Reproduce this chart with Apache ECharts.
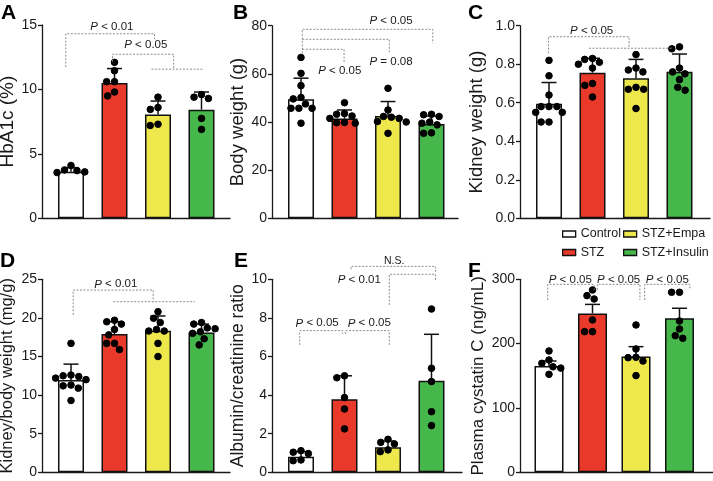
<!DOCTYPE html>
<html><head><meta charset="utf-8">
<script src="https://cdn.jsdelivr.net/npm/echarts@6/dist/echarts.min.js"></script>
<style>html,body{margin:0;padding:0;background:#fff}#c{width:713px;height:481px}</style>
</head><body><div id="c"></div>
<script>
// ---------------- DATA ----------------
const groups = ['Control', 'STZ', 'STZ+Empa', 'STZ+Insulin'];

// A: HbA1c (%)
const hba1cTicks = [0, 5, 10, 15];
const hba1cMean = [3.62, 10.5, 8.05, 8.43];
const hba1cSD = [0.31, 1.12, 1.05, 1.37];
const hba1cDots = [
  [4.1, 3.55, 3.75, 3.6, 3.7],
  [12.1, 11.45, 10.6, 10.6, 9.5, 9.8],
  [9.4, 8.45, 8.6, 7.2, 7.3],
  [9.4, 9.6, 9.3, 7.75, 6.9]
];
const hba1cBrackets = [
  { path: [[-0.12, 11.73], [-0.12, 14.32], [1.92, 14.32], [1.92, 13.9]], label: 'P < 0.01', at: [0.94, 14.87] },
  { path: [[0.955, 12.15], [0.955, 12.73], [2.36, 12.73], [2.36, 11.57]], label: 'P < 0.05', at: [1.72, 13.45] },
  { path: [[1.85, 11.57], [3.02, 11.57]] }
];

// B: Body weight (g)
const bodyTicks = [0, 20, 40, 60, 80];
const bodyMean = [49.4, 41.5, 42.5, 39.2];
const bodySD = [8.8, 3.5, 6.0, 3.3];
const bodyDots = [
  [66.8, 60.2, 55.1, 50.2, 49.6, 45.7, 45.7, 45.7, 39.5, 47.5],
  [48, 43.5, 42.5, 43.2, 41.5, 39.8, 39.5, 39.7],
  [54, 45, 42.3, 42, 41.5, 40.2, 40, 35.3],
  [43, 42.3, 43.2, 39.5, 38.8, 40, 35.3, 35.5]
];
const bodyBrackets = [
  { path: [[0.03, 68.5], [0.03, 78.5], [3.03, 78.5], [3.03, 72.7]], label: 'P < 0.05', at: [2.07, 82] },
  { path: [[0.03, 74.35], [2.03, 74.35], [2.03, 68.5]], label: 'P = 0.08', at: [2.07, 65] },
  { path: [[0.03, 70.2], [0.99, 70.2], [0.99, 64.4]], label: 'P < 0.05', at: [0.89, 61.2] }
];

// C: Kidney weight (g)
const kidneyTicks = [0, 0.2, 0.4, 0.6, 0.8, 1.0];
const kidneyMean = [0.595, 0.756, 0.727, 0.761];
const kidneySD = [0.11, 0.075, 0.098, 0.092];
const kidneyDots = [
  [0.82, 0.74, 0.64, 0.58, 0.58, 0.58, 0.55, 0.55, 0.5, 0.5],
  [0.825, 0.83, 0.8, 0.81, 0.78, 0.7, 0.69, 0.63],
  [0.85, 0.78, 0.77, 0.76, 0.68, 0.67, 0.67, 0.57],
  [0.89, 0.88, 0.78, 0.76, 0.75, 0.72, 0.68, 0.665]
];
const kidneyBrackets = [
  { path: [[-0.01, 0.857], [-0.01, 0.943], [1.84, 0.943], [1.84, 0.883]], label: 'P < 0.05', at: [0.98, 0.972] },
  { path: [[0.92, 0.883], [2.85, 0.883]] }
];

// D: Kidney/body weight (mg/g)
const ratioTicks = [0, 5, 10, 15, 20, 25];
const ratioMean = [11.96, 17.9, 18.35, 18.1];
const ratioSD = [2.05, 1.6, 1.9, 1.1];
const ratioDots = [
  [16.7, 12.5, 12.4, 12.6, 12.2, 12.0, 11.2, 10.9, 11.3, 9.3],
  [19.2, 19.5, 19.7, 18.5, 17.8, 16.7, 16.7, 15.9],
  [20.8, 19.95, 19.4, 18.5, 18.3, 18.3, 16.7, 15.0],
  [19.2, 19.4, 18.7, 18.6, 18.2, 18.0, 17.3, 16.5]
];
const ratioBrackets = [
  { path: [[0.05, 20.4], [0.05, 23.6], [1.89, 23.6], [1.89, 22.1]], label: 'P < 0.01', at: [1.03, 24.35] },
  { path: [[0.97, 22.1], [2.85, 22.1]] }
];

// E: Albumin/creatinine ratio
const acrTicks = [0, 2, 4, 6, 8, 10];
const acrMean = [0.81, 3.78, 1.3, 4.75];
const acrSD = [0.26, 1.22, 0.32, 2.4];
const acrDots = [
  [1.04, 1.12, 0.97, 0.6, 0.64],
  [5.0, 4.9, 3.87, 3.28, 2.25],
  [1.55, 1.71, 1.47, 1.07, 1.16],
  [8.46, 5.39, 4.7, 3.14, 2.42]
];
const acrBrackets = [
  { path: [[1.15, 10.52], [1.15, 10.67], [3.09, 10.67], [3.09, 10.39]], label: 'N.S.', at: [2.14, 10.96], small: true },
  { path: [[2.03, 8.67], [2.03, 10.26], [3.09, 10.26], [3.09, 9.96]], label: 'P < 0.01', at: [1.34, 9.96] },
  { path: [[-0.03, 6.6], [-0.03, 7.34], [0.96, 7.34], [0.96, 7.17]], label: 'P < 0.05', at: [0.37, 7.72] },
  { path: [[1.02, 7.17], [1.02, 7.34], [2.03, 7.34], [2.03, 6.6]], label: 'P < 0.05', at: [1.57, 7.72] }
];

// F: Plasma cystatin C (ng/mL)
const cysTicks = [0, 100, 200, 300];
const cysMean = [165.3, 247, 180, 239.4];
const cysSEM = [7.7, 14, 15.3, 15.6];
const cysDots = [
  [188.6, 169.4, 174.6, 164, 162, 152.3],
  [274.6, 283.4, 269.4, 236.8, 218.6, 218.6],
  [229, 191.7, 178.8, 178.2, 173, 150.3],
  [279.8, 279.8, 235.2, 222.8, 208.3, 212.4]
];
const cysBrackets = [
  { path: [[-0.03, 267.8], [-0.03, 292.2], [1.04, 292.2], [1.04, 283.4]], label: 'P < 0.05', at: [0.49, 299.7] },
  { path: [[1.11, 283.4], [1.11, 292.2], [2.09, 292.2], [2.09, 267.8]], label: 'P < 0.05', at: [1.6, 299.7] },
  { path: [[2.2, 267.8], [2.2, 292.2], [3.24, 292.2], [3.24, 286]], label: 'P < 0.05', at: [2.72, 299.7] }
];

// ---------------- STYLE / LAYOUT ----------------
const FONT = '"Liberation Sans", Arial, Helvetica, sans-serif';
const fills = ['#ffffff', '#E8392A', '#EEE84D', '#46B74A'];
const INK = '#1a1a1a';
const STEP = 43.5, OFF = 29;

const panels = [
  { key: 'A', title: 'HbA1c (%)', ticks: hba1cTicks, mean: hba1cMean, err: hba1cSD, dots: hba1cDots, brackets: hba1cBrackets,
    left: 42, top: 25, width: 188, height: 193.3, nameGap: 21, nameSize: 19, barW: 26, letter: [1, 3] },
  { key: 'B', title: 'Body weight (g)', ticks: bodyTicks, mean: bodyMean, err: bodySD, dots: bodyDots, brackets: bodyBrackets,
    left: 272, top: 25.7, width: 186, height: 192.6, nameGap: 23, nameSize: 18.5, barW: 26, letter: [233, 3] },
  { key: 'C', title: 'Kidney weight (g)', ticks: kidneyTicks, mean: kidneyMean, err: kidneySD, dots: kidneyDots, brackets: kidneyBrackets,
    left: 520, top: 25.7, width: 190, height: 192.6, nameGap: 34, nameSize: 18.5, barW: 26, letter: [468, 3], dec: 1 },
  { key: 'D', title: 'Kidney/body weight (mg/g)', ticks: ratioTicks, mean: ratioMean, err: ratioSD, dots: ratioDots, brackets: ratioBrackets,
    left: 42, top: 279.3, width: 188, height: 193, nameGap: 26, nameSize: 16.5, barW: 26, letter: [0, 251] },
  { key: 'E', title: 'Albumin/creatinine ratio', ticks: acrTicks, mean: acrMean, err: acrSD, dots: acrDots, brackets: acrBrackets,
    left: 272, top: 279.3, width: 190, height: 193, nameGap: 24, nameSize: 17.5, barW: 26, letter: [234, 251] },
  { key: 'F', title: 'Plasma cystatin C (ng/mL)', ticks: cysTicks, mean: cysMean, err: cysSEM, dots: cysDots, brackets: cysBrackets,
    left: 520, top: 279.3, width: 193, height: 193, nameGap: 33, nameSize: 17, barW: 29, letter: [468, 261] }
];

// beeswarm offsets (in x data units) so dots do not overlap
function swarm(values, pxY, pxX, D) {
  const order = values.map((v, k) => k).sort((a, b) => values[b] - values[a]);
  const placed = [], out = new Array(values.length);
  order.forEach(k => {
    const y = values[k] * pxY;
    const forb = [];
    placed.forEach(p => {
      const dy = Math.abs(p.y - y);
      if (dy < D) { const w = Math.sqrt(D * D - dy * dy); forb.push([p.x - w, p.x + w]); }
    });
    const cands = [0];
    forb.forEach(f => cands.push(f[0], f[1]));
    cands.sort((a, b) => Math.abs(a) - Math.abs(b));
    let x = 0;
    for (const c of cands) {
      if (forb.every(f => c <= f[0] + 1e-6 || c >= f[1] - 1e-6)) { x = c; break; }
    }
    placed.push({ x, y });
    out[k] = x / pxX;
  });
  return out;
}

function richLabel(t) {
  if (t.indexOf('P ') === 0) return '{i|P}{n|' + t.slice(1) + '}';
  return '{n|' + t + '}';
}

const grids = [], xAxes = [], yAxes = [], series = [], titles = [];
panels.forEach((p, k) => {
  const yMax = p.ticks[p.ticks.length - 1];
  const yInt = p.ticks[1] - p.ticks[0];
  const xMin = -OFF / STEP, xMax = xMin + p.width / STEP;
  grids.push({ left: p.left, top: p.top, width: p.width, height: p.height, containLabel: false, outerBoundsMode: 'none' });
  xAxes.push({
    type: 'value', gridIndex: k, min: xMin, max: xMax,
    axisLine: { show: true, onZero: false, lineStyle: { color: INK, width: 1.3 } },
    axisTick: { show: false }, axisLabel: { show: false }, splitLine: { show: false }
  });
  yAxes.push({
    type: 'value', gridIndex: k, min: 0, max: yMax, interval: yInt,
    name: p.title, nameLocation: 'middle', nameGap: p.nameGap,
    nameTextStyle: { fontSize: p.nameSize, color: INK, fontFamily: FONT },
    axisLine: { show: true, onZero: false, lineStyle: { color: INK, width: 1.3 } },
    axisTick: { show: true, length: 4, lineStyle: { color: INK, width: 1.3 } },
    axisLabel: { fontSize: 14, color: INK, fontFamily: FONT, margin: 5,
      formatter: v => p.dec ? Number(v).toFixed(p.dec) : String(Math.round(v)) },
    splitLine: { show: false }
  });
  titles.push({ text: p.key, left: p.letter[0], top: p.letter[1], padding: 0,
    textStyle: { fontSize: 21, fontWeight: 'bold', color: '#000', fontFamily: FONT } });

  // bars: one series per group so legend matches
  groups.forEach((g, gi) => {
    series.push({
      type: 'bar', name: g, xAxisIndex: k, yAxisIndex: k,
      data: [[gi, p.mean[gi]]], barWidth: p.barW, barGap: '-100%',
      itemStyle: { color: fills[gi], borderColor: '#111', borderWidth: 1.5 },
      emphasis: { disabled: true }, z: 2, animation: false
    });
  });

  // error bars (upper only)
  series.push({
    type: 'custom', xAxisIndex: k, yAxisIndex: k, z: 3, animation: false, silent: true,
    data: p.mean.map((m, gi) => [gi, m, p.err[gi]]),
    renderItem: (params, api) => {
      const x = api.value(0), m = api.value(1), e = api.value(2);
      const a = api.coord([x, m]), b = api.coord([x, m + e]);
      const st = { stroke: '#111', lineWidth: 1.5 };
      return { type: 'group', children: [
        { type: 'line', shape: { x1: a[0], y1: a[1], x2: b[0], y2: b[1] }, style: st },
        { type: 'line', shape: { x1: b[0] - 7.5, y1: b[1], x2: b[0] + 7.5, y2: b[1] }, style: st }
      ] };
    }
  });

  // dots
  const pxY = p.height / yMax;
  const pts = [];
  p.dots.forEach((vals, gi) => {
    const offs = swarm(vals, pxY, STEP, 7.9);
    vals.forEach((v, j) => pts.push([gi + offs[j], v]));
  });
  series.push({
    type: 'scatter', xAxisIndex: k, yAxisIndex: k, data: pts, symbol: 'circle', symbolSize: 6.6,
    itemStyle: { color: '#000', opacity: 1, borderColor: '#000', borderWidth: 1 },
    emphasis: { disabled: true }, z: 4, animation: false, silent: true
  });

  // significance brackets
  const br = p.brackets;
  series.push({
    type: 'custom', xAxisIndex: k, yAxisIndex: k, z: 5, animation: false, silent: true, clip: false,
    data: br.map(b => (b.at || b.path[0]).slice()),
    renderItem: (params, api) => {
      const b = br[params.dataIndex];
      const children = [{
        type: 'polyline', shape: { points: b.path.map(q => api.coord(q)) },
        style: { stroke: '#8c8c8c', lineWidth: 1, lineDash: [2, 1.5], fill: 'none' }
      }];
      if (b.label) {
        const c = api.coord(b.at);
        const fs = b.small ? 10.5 : 11.5;
        children.push({
          type: 'text', x: c[0], y: c[1],
          style: {
            text: richLabel(b.label), align: 'center', verticalAlign: 'middle',
            fontSize: fs, fontFamily: FONT, fill: INK,
            rich: {
              i: { fontStyle: 'italic', fontSize: fs, fontFamily: FONT, fill: INK },
              n: { fontSize: fs, fontFamily: FONT, fill: INK }
            }
          }
        });
      }
      return { type: 'group', children };
    }
  });
});

const legendBase = {
  orient: 'vertical', icon: 'rect', itemWidth: 13, itemHeight: 6, itemGap: 5.5, padding: 0,
  itemStyle: { borderColor: '#111', borderWidth: 1.3 },
  textStyle: { fontSize: 12.5, color: INK, fontFamily: FONT }, top: 227.5
};
const legends = [
  Object.assign({}, legendBase, { data: ['Control', 'STZ'], left: 562 }),
  Object.assign({}, legendBase, { data: ['STZ+Empa', 'STZ+Insulin'], left: 623 })
];

const chart = echarts.init(document.getElementById('c'), null, { renderer: 'canvas' });
chart.setOption({
  animation: false,
  backgroundColor: '#ffffff',
  textStyle: { fontFamily: FONT },
  title: titles,
  legend: legends,
  grid: grids,
  xAxis: xAxes,
  yAxis: yAxes,
  series: series
});
</script>
</body></html>
